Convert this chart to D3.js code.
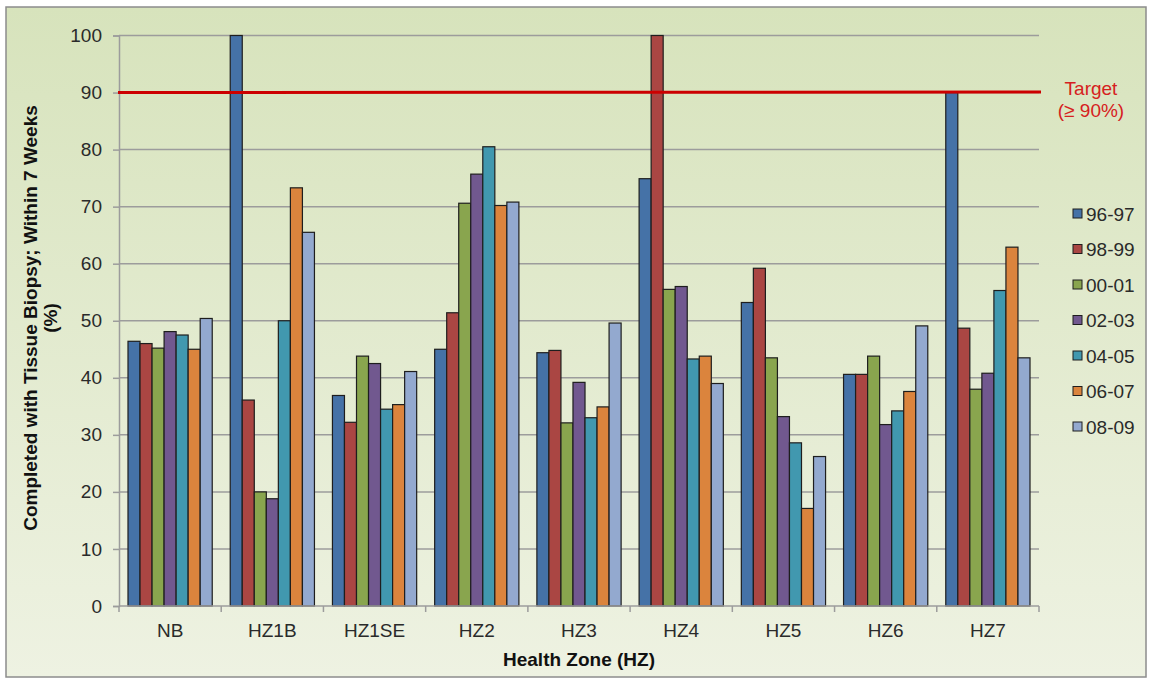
<!DOCTYPE html>
<html><head><meta charset="utf-8">
<script src="https://cdn.jsdelivr.net/npm/d3@7/dist/d3.min.js"></script>
<style>body{margin:0;background:#fff;}svg{display:block;font-family:"Liberation Sans",Arial,sans-serif;}</style>
</head><body><svg id="c" width="1151" height="681"></svg>
<script>
const categories = ["NB","HZ1B","HZ1SE","HZ2","HZ3","HZ4","HZ5","HZ6","HZ7"];
const seriesNames = ["96-97","98-99","00-01","02-03","04-05","06-07","08-09"];
const s9697 = [46.4,100,36.9,45.0,44.4,74.9,53.2,40.6,90.0];
const s9899 = [46.0,36.1,32.2,51.4,44.8,100,59.2,40.6,48.7];
const s0001 = [45.2,20.0,43.8,70.6,32.1,55.5,43.5,43.8,38.0];
const s0203 = [48.1,18.8,42.5,75.7,39.2,56.0,33.2,31.8,40.8];
const s0405 = [47.5,50.0,34.5,80.5,33.0,43.3,28.6,34.2,55.3];
const s0607 = [45.0,73.3,35.3,70.2,34.9,43.8,17.1,37.6,62.9];
const s0809 = [50.4,65.5,41.1,70.8,49.6,39.0,26.2,49.1,43.5];
const seriesValues = [s9697,s9899,s0001,s0203,s0405,s0607,s0809];
const colors = ["#4572a7","#aa4643","#89a54e","#71588f","#4198af","#db843d","#93a9cf"];
const yTicks = [0,10,20,30,40,50,60,70,80,90,100];
const target = 90;

const svg = d3.select("#c");
const defs = svg.append("defs");
const g = defs.append("linearGradient").attr("id","bg").attr("x1",0).attr("y1",0).attr("x2",0).attr("y2",1);
g.append("stop").attr("offset","0%").attr("stop-color","#d7e3bc");
g.append("stop").attr("offset","100%").attr("stop-color","#eef2e2");
svg.append("rect").attr("x",6).attr("y",7).attr("width",1140).attr("height",670)
  .attr("fill","url(#bg)").attr("stroke","#8c8c8c").attr("stroke-width",1.5);

const L=119, R=1039, T=35.5, B=606;
const x = d3.scaleBand().domain(categories).range([L,R]).paddingInner(0.176).paddingOuter(0.088);
const x1 = d3.scaleBand().domain(seriesNames).range([0,x.bandwidth()]);
const y = d3.scaleLinear().domain([0,100]).range([B,T]);

// gridlines
svg.append("g").selectAll("line").data(yTicks.filter(d=>d>0)).join("line")
  .attr("x1",L).attr("x2",R).attr("y1",d=>y(d)).attr("y2",d=>y(d))
  .attr("stroke","#9c9c9c").attr("stroke-width",1.5);

// y axis
const ya = svg.append("g").attr("transform",`translate(${L},0)`)
  .call(d3.axisLeft(y).tickValues(yTicks).tickSize(6).tickPadding(11));
ya.select(".domain").attr("stroke","#9c9c9c").attr("stroke-width",1.5);
ya.selectAll(".tick line").attr("stroke","#9c9c9c").attr("stroke-width",1.5);
ya.selectAll("text").attr("font-size",19).attr("fill","#2a2a2a").attr("font-family","Liberation Sans, Arial");

// bars
const groups = svg.append("g").selectAll("g").data(categories).join("g")
  .attr("transform",c=>`translate(${x(c)},0)`);
groups.selectAll("rect").data((c,i)=>seriesNames.map((s,j)=>({s,j,v:seriesValues[j][i]}))).join("rect")
  .attr("x",d=>x1(d.s)).attr("width",x1.bandwidth())
  .attr("y",d=>y(d.v)).attr("height",d=>B-y(d.v))
  .attr("fill",d=>colors[d.j]).attr("stroke","#1e1e1e").attr("stroke-width",1.2);

// x axis
const xa = svg.append("g").attr("transform",`translate(0,${B})`);
xa.append("line").attr("x1",L).attr("x2",R).attr("stroke","#9c9c9c").attr("stroke-width",1.5);
const bounds = d3.range(categories.length+1).map(i=>L+i*(R-L)/categories.length);
xa.selectAll("line.t").data(bounds).join("line").attr("class","t")
  .attr("x1",d=>d).attr("x2",d=>d).attr("y1",0).attr("y2",6).attr("stroke","#9c9c9c").attr("stroke-width",1.5);
xa.selectAll("text").data(categories).join("text")
  .attr("x",c=>x(c)+x.bandwidth()/2).attr("y",31).attr("text-anchor","middle")
  .attr("font-size",19).attr("fill","#2a2a2a").text(c=>c);

// target line
svg.append("line").attr("x1",L-1).attr("x2",R+2).attr("y1",y(target)).attr("y2",y(target)-0.5)
  .attr("stroke","#cc0000").attr("stroke-width",3);
svg.append("text").attr("x",1091).attr("y",95).attr("text-anchor","middle").attr("font-size",19).attr("fill","#d62020").text("Target");
svg.append("text").attr("x",1091).attr("y",117).attr("text-anchor","middle").attr("font-size",19).attr("fill","#d62020").text("(≥ 90%)");

// axis titles
svg.append("text").attr("x",579).attr("y",666).attr("text-anchor","middle")
  .attr("font-size",19).attr("font-weight","bold").attr("fill","#111").text("Health Zone (HZ)");
const yt = svg.append("text").attr("transform","translate(37,318) rotate(-90)").attr("text-anchor","middle")
  .attr("font-size",19).attr("font-weight","bold").attr("fill","#111");
yt.append("tspan").attr("x",0).attr("dy",0).text("Completed with Tissue Biopsy; Within 7 Weeks");
yt.append("tspan").attr("x",0).attr("dy",20).text("(%)");

// legend
const leg = svg.append("g").selectAll("g").data(seriesNames).join("g")
  .attr("transform",(d,i)=>`translate(1073,${214+i*35.5})`);
leg.append("rect").attr("x",0).attr("y",-5).attr("width",9).attr("height",9)
  .attr("fill",(d,i)=>colors[i]).attr("stroke","#1e1e1e").attr("stroke-width",1);
leg.append("text").attr("x",13).attr("y",6.5).attr("font-size",19).attr("fill","#2a2a2a").text(d=>d);
</script></body></html>
